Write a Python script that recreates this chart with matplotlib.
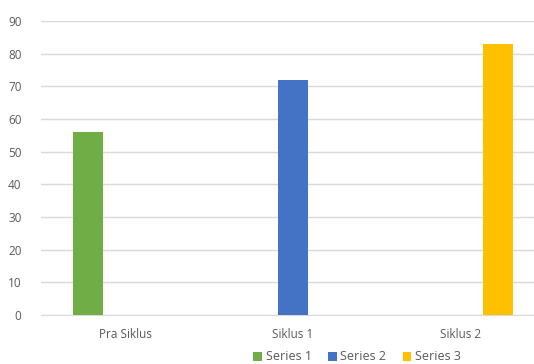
import numpy as np
import matplotlib
matplotlib.use('Agg')
import matplotlib.pyplot as plt

categories = ['Pra Siklus', 'Siklus 1', 'Siklus 2']
series_names = ['Series 1', 'Series 2', 'Series 3']
series1 = [56, 0, 0]
series2 = [0, 72, 0]
series3 = [0, 0, 83]
colors = ['#70AD47', '#4472C4', '#FFC000']

plt.rcParams['font.family'] = ['Open Sans', 'DejaVu Sans']

fig = plt.figure(figsize=(5.34, 3.64), dpi=100)
ax = fig.add_axes([41 / 534, 49 / 364, 504 / 534, 294 / 364])

x = np.arange(len(categories))
width = 0.175
offsets = [-0.22, 0, 0.22]
for vals, off, c, name in zip([series1, series2, series3], offsets, colors, series_names):
    ax.bar(x + off, vals, width, color=c, label=name, zorder=3)

ax.set_xlim(-0.5, 2.5)
ax.set_ylim(0, 90)
ax.set_yticks(range(0, 91, 10))
ax.set_xticks(x)
ax.set_xticklabels(categories)
ax.yaxis.grid(True, color='#D9D9D9', linewidth=1, zorder=0)
ax.tick_params(axis='both', length=0, labelsize=8.5, colors='#595959')
ax.tick_params(axis='x', pad=9)
ax.tick_params(axis='y', pad=14)
for s in ['top', 'right', 'left']:
    ax.spines[s].set_visible(False)
ax.spines['bottom'].set_color('#D9D9D9')

leg = fig.legend(loc='center', bbox_to_anchor=(357 / 534, 1 - 357 / 364), ncol=3,
                 frameon=False, fontsize=9, handlelength=0.7, handleheight=0.7,
                 handletextpad=0.3, columnspacing=1.3)
for t in leg.get_texts():
    t.set_color('#595959')

fig.savefig('out.png', dpi=100)
